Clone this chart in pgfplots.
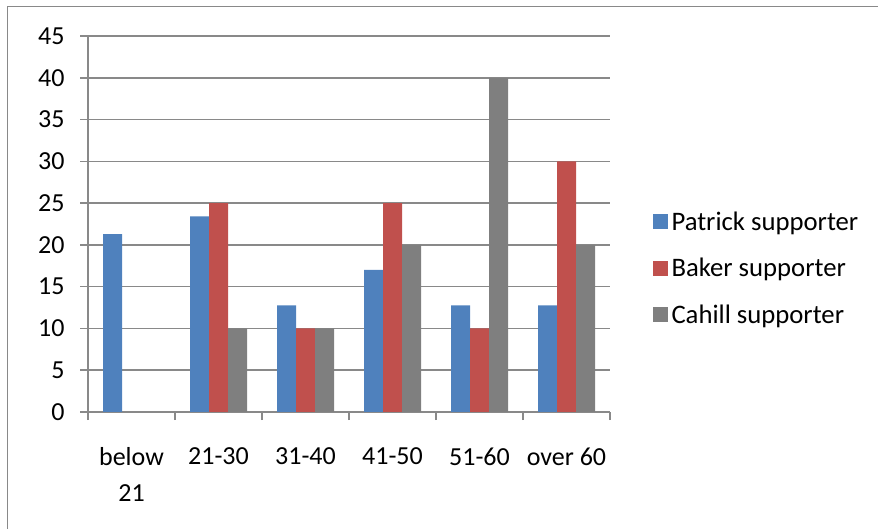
\documentclass[border=0pt]{standalone}
\usepackage{pgfplots}
\pgfplotsset{compat=1.18}
\usepackage{fontspec}
\setmainfont{Carlito}

\definecolor{patrick}{HTML}{4F81BD}
\definecolor{baker}{HTML}{C0504D}
\definecolor{cahill}{HTML}{7F7F7F}
\definecolor{gridgray}{HTML}{898989}

\begin{document}
\begin{tikzpicture}
\path[use as bounding box] (0,0) rectangle (878bp,529bp);
% chart frame
\draw[gridgray, line width=1.5bp] (7.5bp,0) -- (7.5bp,522.5bp) -- (878bp,522.5bp);
\begin{axis}[
  at={(88bp,117bp)}, anchor=south west,
  scale only axis,
  width=522bp, height=376bp,
  ybar=0pt, bar width=19bp,
  xmin=-0.5, xmax=5.5,
  ymin=0, ymax=45,
  ytick={0,5,...,45},
  xtick={0,1,2,3,4,5},
  xticklabels={{below\\21},{21-30},{31-40},{41-50},{51-60},{over 60}},
  xticklabel style={align=center, font=\fontsize{26bp}{35.5bp}\selectfont, anchor=north, yshift=-24bp},
  minor xtick={-0.5,0.5,...,5.5},
  major x tick style={draw=none},
  minor x tick style={gridgray, line width=1.5bp},
  y tick style={gridgray, line width=1.5bp},
  tick align=outside,
  major tick length=8bp, minor tick length=8bp,
  yticklabel style={font=\fontsize{26bp}{30bp}\selectfont, xshift=-12bp},
  /pgf/number format/assume math mode=true,
  ymajorgrids,
  grid style={gridgray, line width=1.5bp},
  axis x line*=bottom, axis y line*=left,
  axis line style={gridgray, line width=1.5bp, -},
  legend style={at={(1.082,0.382)}, anchor=west, draw=none, fill=none,
    font=\fontsize{26.7bp}{30bp}\selectfont, row sep=19.5bp, inner sep=0pt,
    nodes={inner sep=3.5bp}},
  legend cell align=left,
  legend image code/.code={\fill[#1, draw=none] (0bp,-7.5bp) rectangle (15bp,7.5bp);},
]
\addplot[fill=patrick, draw=none] coordinates {(0,21.28) (1,23.40) (2,12.77) (3,17.02) (4,12.77) (5,12.77)};
\addplot[fill=baker, draw=none] coordinates {(0,0) (1,25) (2,10) (3,25) (4,10) (5,30)};
\addplot[fill=cahill, draw=none] coordinates {(0,0) (1,10) (2,10) (3,20) (4,40) (5,20)};
\legend{Patrick supporter, Baker supporter, Cahill supporter}
\end{axis}
\end{tikzpicture}
\end{document}
